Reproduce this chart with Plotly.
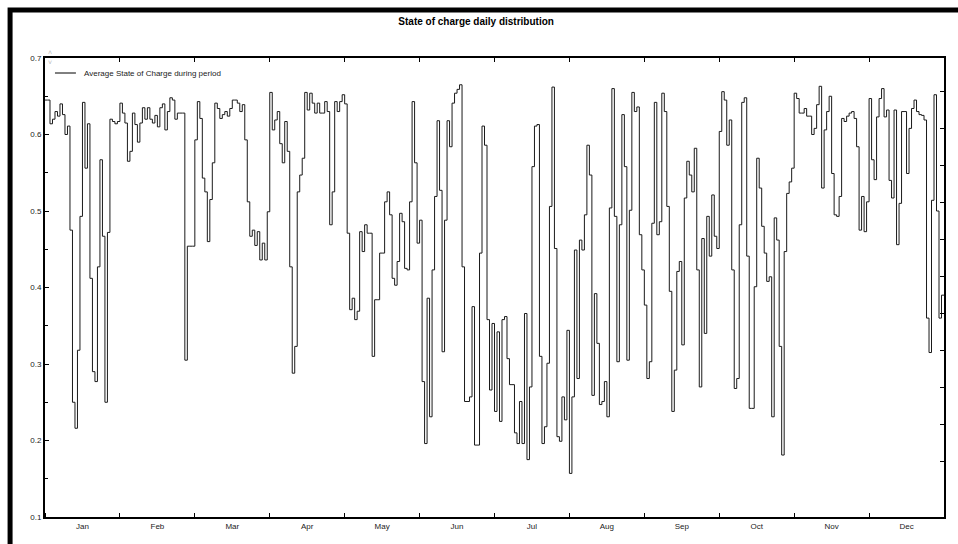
import plotly.graph_objects as go

months = ["Jan", "Feb", "Mar", "Apr", "May", "Jun", "Jul", "Aug", "Sep", "Oct", "Nov", "Dec"]
days_per_month = 30

soc_jan = [0.645, 0.645, 0.614, 0.62, 0.63, 0.624, 0.64, 0.626, 0.6, 0.611, 0.475, 0.25, 0.216, 0.318, 0.493,
           0.642, 0.556, 0.614, 0.412, 0.29, 0.277, 0.427, 0.567, 0.467, 0.25, 0.472, 0.62, 0.617, 0.614, 0.617]
soc_feb = [0.641, 0.628, 0.615, 0.565, 0.578, 0.628, 0.613, 0.59, 0.615, 0.635, 0.62, 0.635, 0.62, 0.615, 0.625,
           0.61, 0.635, 0.64, 0.606, 0.63, 0.648, 0.645, 0.62, 0.628, 0.628, 0.628, 0.305, 0.454, 0.454, 0.454]
soc_mar = [0.593, 0.643, 0.621, 0.543, 0.525, 0.46, 0.515, 0.563, 0.641, 0.634, 0.621, 0.626, 0.63, 0.624, 0.634,
           0.645, 0.645, 0.641, 0.63, 0.639, 0.593, 0.512, 0.467, 0.475, 0.455, 0.473, 0.436, 0.458, 0.436, 0.499]
soc_apr = [0.655, 0.606, 0.619, 0.63, 0.588, 0.563, 0.617, 0.578, 0.427, 0.288, 0.323, 0.525, 0.547, 0.569, 0.655,
           0.632, 0.654, 0.641, 0.628, 0.641, 0.628, 0.628, 0.643, 0.63, 0.482, 0.525, 0.643, 0.63, 0.643, 0.652]
soc_may = [0.64, 0.471, 0.371, 0.386, 0.358, 0.369, 0.473, 0.447, 0.482, 0.471, 0.471, 0.31, 0.384, 0.384, 0.445,
           0.445, 0.512, 0.525, 0.495, 0.412, 0.403, 0.434, 0.497, 0.486, 0.425, 0.423, 0.512, 0.643, 0.563, 0.458]
soc_jun = [0.488, 0.277, 0.196, 0.386, 0.231, 0.423, 0.519, 0.618, 0.527, 0.316, 0.488, 0.618, 0.584, 0.641, 0.654,
           0.659, 0.665, 0.427, 0.251, 0.251, 0.257, 0.375, 0.194, 0.194, 0.445, 0.611, 0.586, 0.358, 0.266, 0.353]
soc_jul = [0.238, 0.342, 0.225, 0.358, 0.362, 0.307, 0.273, 0.273, 0.21, 0.196, 0.251, 0.196, 0.366, 0.175, 0.27,
           0.558, 0.611, 0.613, 0.31, 0.196, 0.218, 0.301, 0.506, 0.662, 0.451, 0.205, 0.199, 0.257, 0.227, 0.344]
soc_aug = [0.157, 0.257, 0.449, 0.281, 0.462, 0.449, 0.495, 0.586, 0.547, 0.259, 0.392, 0.327, 0.247, 0.251, 0.277,
           0.231, 0.504, 0.66, 0.493, 0.303, 0.482, 0.626, 0.558, 0.305, 0.501, 0.655, 0.63, 0.636, 0.469, 0.423]
soc_sep = [0.377, 0.281, 0.303, 0.484, 0.642, 0.469, 0.486, 0.654, 0.63, 0.506, 0.395, 0.238, 0.292, 0.421, 0.434,
           0.325, 0.517, 0.565, 0.547, 0.525, 0.582, 0.423, 0.27, 0.464, 0.34, 0.493, 0.441, 0.521, 0.467, 0.451]
soc_oct = [0.604, 0.656, 0.645, 0.586, 0.619, 0.423, 0.268, 0.281, 0.482, 0.642, 0.648, 0.441, 0.242, 0.242, 0.401,
           0.569, 0.53, 0.48, 0.445, 0.408, 0.414, 0.231, 0.491, 0.462, 0.323, 0.181, 0.447, 0.523, 0.538, 0.556]
soc_nov = [0.654, 0.647, 0.628, 0.628, 0.634, 0.624, 0.624, 0.6, 0.608, 0.639, 0.663, 0.53, 0.606, 0.63, 0.65,
           0.549, 0.495, 0.493, 0.519, 0.621, 0.617, 0.624, 0.628, 0.63, 0.621, 0.584, 0.475, 0.519, 0.473, 0.512]
soc_dec = [0.647, 0.567, 0.541, 0.623, 0.647, 0.66, 0.623, 0.632, 0.54, 0.517, 0.632, 0.456, 0.51, 0.63, 0.63,
           0.549, 0.608, 0.634, 0.645, 0.63, 0.626, 0.625, 0.619, 0.36, 0.315, 0.514, 0.652, 0.5, 0.36, 0.39]

y_ticks = [0.1, 0.2, 0.3, 0.4, 0.5, 0.6, 0.7]

soc = (soc_jan + soc_feb + soc_mar + soc_apr + soc_may + soc_jun +
       soc_jul + soc_aug + soc_sep + soc_oct + soc_nov + soc_dec)
n = len(soc)
x_steps = list(range(n)) + [n]
y_steps = soc + [soc[-1]]

bounds = [i * days_per_month for i in range(len(months) + 1)]
centers = [i * days_per_month + days_per_month / 2 for i in range(len(months))]

# pixel geometry helpers (plot area 45..946 x 58..517)
W, H = 958, 544
L, R, T, B = 45, 12, 58, 27
pw, ph = W - L - R, H - T - B


def px(xp):
    return (xp - L) / pw


def py(yp):
    return (H - B - yp) / ph


# right-hand (unlabelled) axis ticks
r_step = 37.0
r_ticks = [(H - B - 461.7) / r_step + k for k in range(11)]

fig = go.Figure()
fig.add_trace(go.Scatter(x=x_steps, y=y_steps, mode="lines",
                         line=dict(shape="hv", color="#1a1a1a", width=1),
                         name="Average State of Charge during period",
                         showlegend=False, hoverinfo="skip"))
fig.add_trace(go.Scatter(x=[None], y=[None], xaxis="x2", yaxis="y2",
                         showlegend=False, hoverinfo="skip"))

fig.update_layout(
    width=W, height=H,
    margin=dict(l=L, r=R, t=T, b=B),
    paper_bgcolor="white", plot_bgcolor="white",
    font=dict(family="Arial", size=8, color="#222"),
    title=dict(text="<b>State of charge daily distribution</b>",
               x=0.497, xref="container", xanchor="center",
               y=1 - 21 / H, yref="container", yanchor="middle",
               font=dict(size=10, color="black")),
    xaxis=dict(range=[0, n], tickmode="array", tickvals=centers, ticktext=months,
               ticks="", showline=True, linecolor="black", linewidth=2, mirror=True,
               showgrid=False, zeroline=False,
               minor=dict(tickmode="array", tickvals=bounds, ticks="inside",
                          ticklen=4, tickcolor="black", tickwidth=1, showgrid=False)),
    xaxis2=dict(overlaying="x", side="top", range=[0, n], tickmode="array",
                tickvals=bounds, ticks="inside", ticklen=4, tickcolor="black",
                showticklabels=False, showline=False, showgrid=False, zeroline=False),
    yaxis=dict(range=[0.1, 0.7], tickmode="array", tickvals=y_ticks, tickformat=".1f",
               ticks="inside", ticklen=4, tickcolor="black", tickwidth=1,
               showline=True, linecolor="black", linewidth=2, mirror=True,
               showgrid=False, zeroline=False,
               minor=dict(dtick=0.05, tick0=0.05, ticks="inside", ticklen=3,
                          tickcolor="black", showgrid=False)),
    yaxis2=dict(overlaying="y", side="right", range=[0, ph / r_step],
                tickmode="array", tickvals=r_ticks, ticks="inside", ticklen=4,
                tickcolor="black", showticklabels=False, showline=False,
                showgrid=False, zeroline=False),
    shapes=[
        dict(type="rect", xref="paper", yref="paper",
             x0=px(10), x1=px(1000), y0=py(600), y1=py(10),
             line=dict(color="black", width=5), fillcolor="rgba(0,0,0,0)", layer="above"),
        dict(type="line", xref="paper", yref="paper",
             x0=px(55), x1=px(76), y0=py(73), y1=py(73),
             line=dict(color="black", width=1)),
    ],
    annotations=[
        dict(text="Average State of Charge during period", xref="paper", yref="paper",
             x=px(82), y=py(73), xanchor="left", yanchor="middle", showarrow=False,
             font=dict(size=8, color="#222")),
        dict(text="˄", xref="paper", yref="paper", x=px(50), y=py(52),
             xanchor="center", yanchor="middle", showarrow=False,
             font=dict(size=7, color="#bbbbbb")),
        dict(text="˅", xref="paper", yref="paper", x=px(50), y=py(62),
             xanchor="center", yanchor="middle", showarrow=False,
             font=dict(size=7, color="#bbbbbb")),
    ],
)

fig.write_html("out.html")
